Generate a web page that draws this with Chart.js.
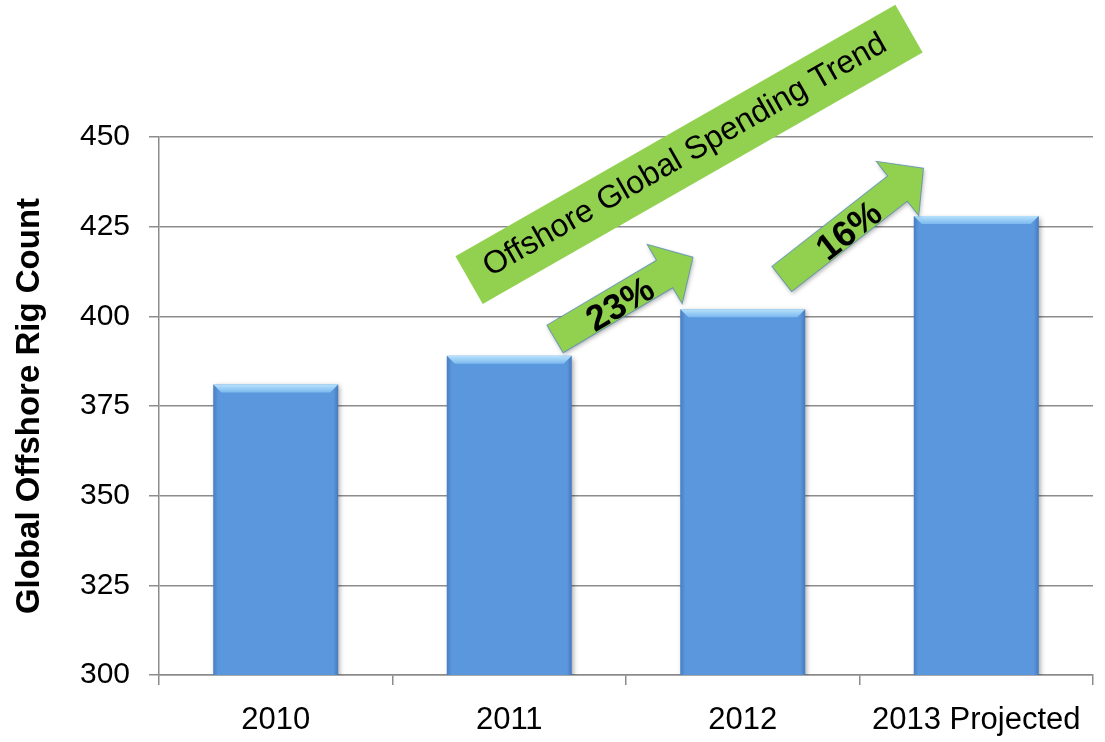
<!DOCTYPE html>
<html>
<head>
<meta charset="utf-8">
<script src="https://cdn.jsdelivr.net/npm/chart.js@4"></script>
<style>
  html, body { margin: 0; padding: 0; background: #fff; }
  #wrap { width: 1105px; height: 742px; }
</style>
</head>
<body>
<div id="wrap"><canvas id="c" width="1105" height="742"></canvas></div>
<script>
/* Offshore rig count bar chart */
const categories = ['2010', '2011', '2012', '2013 Projected'];
const rigCounts = [381, 389, 402, 428];
const yMin = 300, yMax = 450, yStep = 25;
const yTitle = 'Global Offshore Rig Count';

// callouts, anchored in data space: [category index, rig count]
const bannerText = 'Offshore Global Spending Trend';
const bannerFrom = [0.828, 410.1];
const bannerTo = [2.712, 480.2];
const arrowLabels = ['23%', '16%'];
const arrowFrom = [[1.196, 393.7], [2.167, 410.4]];
const arrowTo = [[1.787, 416.5], [2.774, 441.3]];

const GREEN = '#92d050';
const GRID = '#8c8c8c';
const FONT = '"Liberation Sans", Arial, sans-serif';

const bevelPlugin = {
  id: 'bevel',
  beforeDatasetDraw(chart) {
    const ctx = chart.ctx;
    ctx.save();
    ctx.shadowColor = 'rgba(0,0,0,0.35)';
    ctx.shadowBlur = 5;
    ctx.shadowOffsetX = 2;
    ctx.shadowOffsetY = 2;
  },
  afterDatasetDraw(chart) {
    const ctx = chart.ctx;
    ctx.restore();
    const b = 8;
    const bottom = chart.chartArea.bottom;
    chart.getDatasetMeta(0).data.forEach(bar => {
      const { x, y, width } = bar.getProps(['x', 'y', 'width'], true);
      const l = x - width / 2, r = x + width / 2;
      ctx.save();
      // top bevel
      const g = ctx.createLinearGradient(0, y, 0, y + b);
      g.addColorStop(0, '#b8e2fc');
      g.addColorStop(1, '#7cb9ef');
      ctx.fillStyle = g;
      ctx.beginPath();
      ctx.moveTo(l, y); ctx.lineTo(r, y); ctx.lineTo(r - b, y + b); ctx.lineTo(l + b, y + b);
      ctx.closePath(); ctx.fill();
      // darker side edges
      const gl = ctx.createLinearGradient(l, 0, l + 5, 0);
      gl.addColorStop(0, 'rgba(40,80,140,0.35)');
      gl.addColorStop(1, 'rgba(40,80,140,0)');
      ctx.fillStyle = gl;
      ctx.beginPath();
      ctx.moveTo(l, y); ctx.lineTo(l + b, y + b); ctx.lineTo(l + 5, bottom); ctx.lineTo(l, bottom);
      ctx.closePath(); ctx.fill();
      const gr = ctx.createLinearGradient(r, 0, r - 5, 0);
      gr.addColorStop(0, 'rgba(40,80,140,0.4)');
      gr.addColorStop(1, 'rgba(40,80,140,0)');
      ctx.fillStyle = gr;
      ctx.beginPath();
      ctx.moveTo(r, y); ctx.lineTo(r - b, y + b); ctx.lineTo(r - 5, bottom); ctx.lineTo(r, bottom);
      ctx.closePath(); ctx.fill();
      ctx.restore();
    });
  }
};

const calloutPlugin = {
  id: 'callouts',
  afterDatasetsDraw(chart) {
    const { ctx, scales: { x, y } } = chart;
    const px = p => [x.getPixelForValue(p[0]), y.getPixelForValue(p[1])];

    // banner
    const [bx0, by0] = px(bannerFrom);
    const [bx1, by1] = px(bannerTo);
    const bLen = Math.hypot(bx1 - bx0, by1 - by0);
    ctx.save();
    ctx.translate(bx0, by0);
    ctx.rotate(Math.atan2(by1 - by0, bx1 - bx0));
    ctx.fillStyle = GREEN;
    ctx.fillRect(0, -27.5, bLen, 55);
    ctx.fillStyle = '#000';
    ctx.font = '32px ' + FONT;
    ctx.textAlign = 'center';
    ctx.textBaseline = 'middle';
    ctx.fillText(bannerText, bLen / 2 - 4, -1);
    ctx.restore();

    // arrows
    arrowLabels.forEach((label, i) => {
      const [ax0, ay0] = px(arrowFrom[i]);
      const [ax1, ay1] = px(arrowTo[i]);
      const len = Math.hypot(ax1 - ax0, ay1 - ay0);
      const sw = 32, hl = 33, hw = 69;
      ctx.save();
      ctx.translate(ax0, ay0);
      ctx.rotate(Math.atan2(ay1 - ay0, ax1 - ax0));
      ctx.shadowColor = 'rgba(0,0,0,0.3)';
      ctx.shadowBlur = 4;
      ctx.shadowOffsetX = 1;
      ctx.shadowOffsetY = 2;
      ctx.beginPath();
      ctx.moveTo(0, -sw / 2);
      ctx.lineTo(len - hl, -sw / 2);
      ctx.lineTo(len - hl, -hw / 2);
      ctx.lineTo(len, 0);
      ctx.lineTo(len - hl, hw / 2);
      ctx.lineTo(len - hl, sw / 2);
      ctx.lineTo(0, sw / 2);
      ctx.closePath();
      ctx.fillStyle = GREEN;
      ctx.fill();
      ctx.shadowColor = 'transparent';
      ctx.strokeStyle = 'rgba(79,129,189,0.7)';
      ctx.lineWidth = 1;
      ctx.stroke();
      ctx.fillStyle = '#000';
      ctx.font = 'bold 36px ' + FONT;
      ctx.textAlign = 'center';
      ctx.textBaseline = 'middle';
      ctx.fillText(label, len * 0.46, 5);
      ctx.restore();
    });
  }
};

new Chart(document.getElementById('c').getContext('2d'), {
  type: 'bar',
  data: {
    labels: categories,
    datasets: [{
      data: rigCounts,
      backgroundColor: '#5b97dd',
      borderWidth: 0,
      categoryPercentage: 1,
      barPercentage: 0.535,
    }],
  },
  options: {
    responsive: false,
    animation: false,
    layout: { padding: { top: 137, right: 12, left: 0, bottom: 0 } },
    plugins: { legend: { display: false }, tooltip: { enabled: false } },
    scales: {
      x: {
        afterFit: s => { s.height = 67; },
        grid: { display: true, drawOnChartArea: false, offset: true, tickLength: 10, color: GRID, lineWidth: 1.5 },
        border: { color: GRID, width: 1.5 },
        ticks: { color: '#000', font: { family: FONT, size: 31 }, padding: 17, maxRotation: 0, autoSkip: false },
      },
      y: {
        min: yMin, max: yMax,
        afterFit: s => { s.width = 159; },
        grid: { color: GRID, lineWidth: 1.5, tickLength: 10 },
        border: { color: GRID, width: 1.5 },
        ticks: { stepSize: yStep, color: '#000', font: { family: FONT, size: 30 }, padding: 19 },
        title: {
          display: true, text: yTitle, color: '#000',
          font: { family: FONT, size: 33, weight: 'bold' },
          padding: { top: 10, bottom: 0 },
        },
      },
    },
  },
  plugins: [bevelPlugin, calloutPlugin],
});
</script>
</body>
</html>
